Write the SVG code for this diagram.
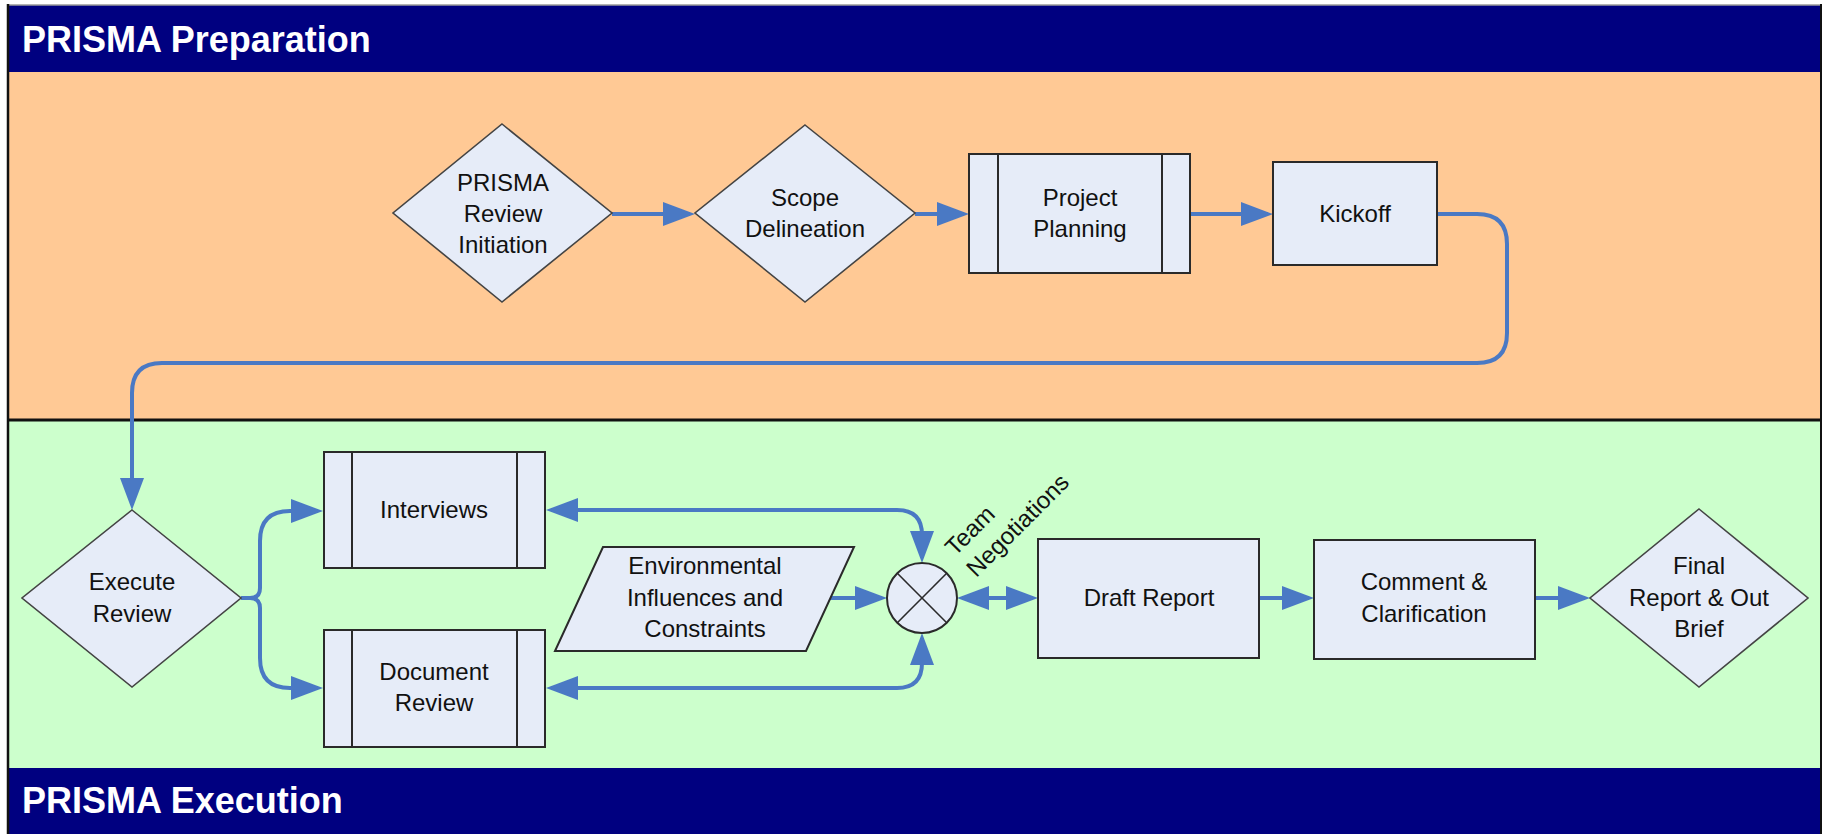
<svg xmlns="http://www.w3.org/2000/svg" width="1823" height="834" viewBox="0 0 1823 834">
  <defs>
    <style>
      .band-title { font-family: "Liberation Sans", Arial, sans-serif; font-weight: bold; font-size: 36px; fill: #ffffff; }
      .node { fill: #e6ecf8; stroke: #2a2a2a; stroke-width: 2; }
      .diamond { fill: #e6ecf8; stroke: #444444; stroke-width: 1.6; }
      .label { font-family: "Liberation Sans", Arial, sans-serif; font-size: 24px; fill: #111111; text-anchor: middle; }
      .free { font-family: "Liberation Sans", Arial, sans-serif; font-size: 24px; fill: #111111; }
      .flow { fill: none; stroke: #4a79c4; stroke-width: 4; stroke-linecap: butt; stroke-linejoin: round; }
    </style>
    <marker id="arrow" markerUnits="userSpaceOnUse" markerWidth="34" markerHeight="26" viewBox="0 -13 34 26" refX="27" refY="0" orient="auto-start-reverse">
      <path d="M0,-12 L32,0 L0,12 Z" fill="#4a79c4"/>
    </marker>
  </defs>

  <!-- page background and swimlane bands -->
  <rect x="0" y="0" width="1823" height="834" fill="#ffffff"/>
  <rect x="8" y="5" width="1813" height="67" fill="#000080"/>
  <rect x="8" y="72" width="1813" height="348" fill="#ffc995"/>
  <rect x="8" y="420" width="1813" height="348" fill="#ccffcc"/>
  <rect x="8" y="768" width="1813" height="66" fill="#000080"/>
  <line x1="8" y1="420" x2="1821" y2="420" stroke="#111111" stroke-width="3"/>
  <line x1="8" y1="5" x2="1821" y2="5" stroke="#9a9a9a" stroke-width="1.5"/>
  <line x1="8" y1="4" x2="8" y2="834" stroke="#111111" stroke-width="2.5"/>
  <line x1="1821" y1="4" x2="1821" y2="834" stroke="#111111" stroke-width="2"/>
  <text class="band-title" x="22" y="52">PRISMA Preparation</text>
  <text class="band-title" x="22" y="813">PRISMA Execution</text>

  <!-- connectors -->
  <g id="connectors">
    <path class="flow" d="M612 214 H690" marker-end="url(#arrow)"/>
    <path class="flow" d="M915 214 H964" marker-end="url(#arrow)"/>
    <path class="flow" d="M1190 214 H1268" marker-end="url(#arrow)"/>
    <path class="flow" d="M1437 214 H1477 Q1507 214 1507 244 V333 Q1507 363 1477 363 H162 Q132 363 132 393 V505" marker-end="url(#arrow)"/>
    <path class="flow" d="M241 598 H250 Q260 598 260 588 V541 Q260 511 290 511 H318" marker-end="url(#arrow)"/>
    <path class="flow" d="M250 598 Q260 598 260 608 V658 Q260 688 290 688 H318" marker-end="url(#arrow)"/>
    <path class="flow" d="M551 510 H897 Q922 510 922 535 V558" marker-start="url(#arrow)" marker-end="url(#arrow)"/>
    <path class="flow" d="M551 688 H897 Q922 688 922 663 V638" marker-start="url(#arrow)" marker-end="url(#arrow)"/>
    <path class="flow" d="M829 598 H882" marker-end="url(#arrow)"/>
    <path class="flow" d="M962 598 H1033" marker-start="url(#arrow)" marker-end="url(#arrow)"/>
    <path class="flow" d="M1259 598 H1309" marker-end="url(#arrow)"/>
    <path class="flow" d="M1535 598 H1585" marker-end="url(#arrow)"/>
  </g>

  <!-- preparation lane -->
  <g id="review-initiation">
    <polygon class="diamond" points="502,124 612,213 502,302 393,213"/>
    <text class="label" x="503" y="191">PRISMA</text>
    <text class="label" x="503" y="222">Review</text>
    <text class="label" x="503" y="253">Initiation</text>
  </g>
  <g id="scope-delineation">
    <polygon class="diamond" points="805,125 915,213 805,302 695,213"/>
    <text class="label" x="805" y="206">Scope</text>
    <text class="label" x="805" y="237">Delineation</text>
  </g>
  <g id="project-planning">
    <rect class="node" x="969" y="154" width="221" height="119"/>
    <line class="node" x1="998" y1="154" x2="998" y2="273"/>
    <line class="node" x1="1162" y1="154" x2="1162" y2="273"/>
    <text class="label" x="1080" y="206">Project</text>
    <text class="label" x="1080" y="237">Planning</text>
  </g>
  <g id="kickoff">
    <rect class="node" x="1273" y="162" width="164" height="103"/>
    <text class="label" x="1355" y="222">Kickoff</text>
  </g>

  <!-- execution lane -->
  <g id="execute-review">
    <polygon class="diamond" points="132,510 241,598 132,687 22,598"/>
    <text class="label" x="132" y="590">Execute</text>
    <text class="label" x="132" y="622">Review</text>
  </g>
  <g id="interviews">
    <rect class="node" x="324" y="452" width="221" height="116"/>
    <line class="node" x1="352" y1="452" x2="352" y2="568"/>
    <line class="node" x1="517" y1="452" x2="517" y2="568"/>
    <text class="label" x="434" y="518">Interviews</text>
  </g>
  <g id="document-review">
    <rect class="node" x="324" y="630" width="221" height="117"/>
    <line class="node" x1="352" y1="630" x2="352" y2="747"/>
    <line class="node" x1="517" y1="630" x2="517" y2="747"/>
    <text class="label" x="434" y="680">Document</text>
    <text class="label" x="434" y="711">Review</text>
  </g>
  <g id="environmental-influences">
    <polygon class="node" points="603,547 854,547 806,651 555,651"/>
    <text class="label" x="705" y="574">Environmental</text>
    <text class="label" x="705" y="606">Influences and</text>
    <text class="label" x="705" y="637">Constraints</text>
  </g>
  <g id="team-negotiations">
    <circle class="node" cx="922" cy="598" r="35"/>
    <line x1="897.3" y1="573.3" x2="946.7" y2="622.7" stroke="#2a2a2a" stroke-width="1.6"/>
    <line x1="946.7" y1="573.3" x2="897.3" y2="622.7" stroke="#2a2a2a" stroke-width="1.6"/>
    <g transform="translate(955 557) rotate(-45)">
      <text class="free" x="0" y="0">Team</text>
      <text class="free" x="0" y="30">Negotiations</text>
    </g>
  </g>
  <g id="draft-report">
    <rect class="node" x="1038" y="539" width="221" height="119"/>
    <text class="label" x="1149" y="606">Draft Report</text>
  </g>
  <g id="comment-clarification">
    <rect class="node" x="1314" y="540" width="221" height="119"/>
    <text class="label" x="1424" y="590">Comment &amp;</text>
    <text class="label" x="1424" y="622">Clarification</text>
  </g>
  <g id="final-report">
    <polygon class="diamond" points="1699,509 1808,598 1699,687 1590,598"/>
    <text class="label" x="1699" y="574">Final</text>
    <text class="label" x="1699" y="606">Report &amp; Out</text>
    <text class="label" x="1699" y="637">Brief</text>
  </g>
</svg>
